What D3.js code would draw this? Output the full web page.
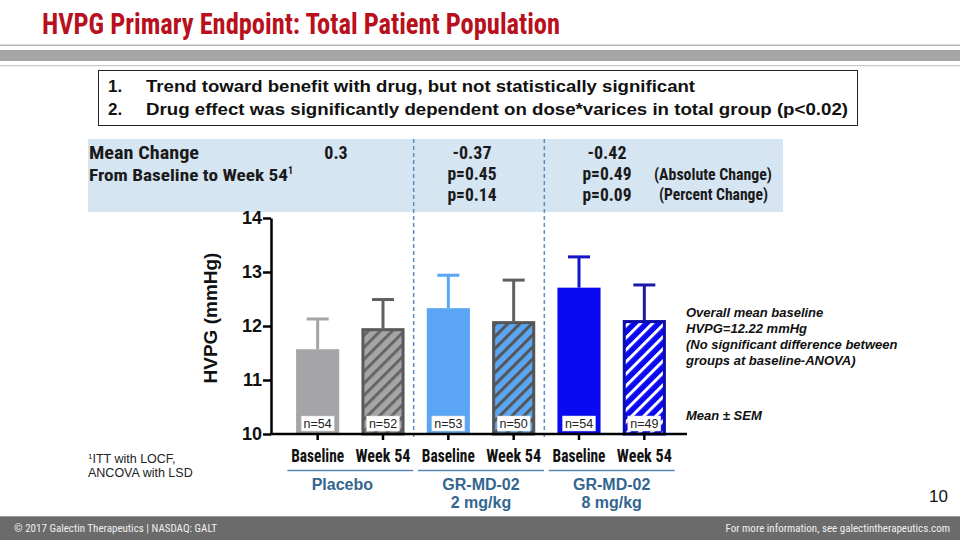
<!DOCTYPE html>
<html><head><meta charset="utf-8">
<script src="https://cdn.jsdelivr.net/npm/d3@7"></script>
<style>
html,body{margin:0;padding:0;background:#fff;}
svg{display:block;}
</style></head>
<body>
<svg id="chart" width="960" height="540"></svg>
<script>
// ---------------- DATA ----------------
const categories = ["Baseline","Week 54","Baseline","Week 54","Baseline","Week 54"];
const groupOf = [0,0,1,1,2,2];
const groupNames = [["Placebo"],["GR-MD-02","2 mg/kg"],["GR-MD-02","8 mg/kg"]];
const means = [11.57, 11.96, 12.33, 12.09, 12.71, 12.11];
const sems  = [0.56, 0.53, 0.61, 0.76, 0.57, 0.65];
const nCounts = [54, 52, 53, 50, 54, 49];
const yTicks = [10, 11, 12, 13, 14];
const meanChange = ["0.3", "-0.37", "-0.42"];
const pAbsolute = ["", "p=0.45", "p=0.49"];
const pPercent  = ["", "p=0.14", "p=0.09"];
const keyPoints = [
  "Trend toward benefit with drug, but not statistically significant",
  "Drug effect was significantly dependent on dose*varices in total group (p<0.02)"
];
const noteLines = ["Overall mean baseline","HVPG=12.22 mmHg","(No significant difference between","groups at baseline-ANOVA)"];

// ---------------- STYLE ----------------
const NARROW = "'Liberation Sans Narrow','Arial Narrow','Roboto Condensed','Liberation Sans',Arial,sans-serif";
const ARIAL = "'Liberation Sans',Arial,Helvetica,sans-serif";
const barStyle = [
  {fill:"#a5a5a8", err:"#a5a5a8", hatch:null},
  {fill:"url(#h0)", err:"#606060", hatch:{bg:"#a5a5a8", fg:"#666666"}, stroke:"#5a5a5a"},
  {fill:"#5aa6f4", err:"#5aa6f4", hatch:null},
  {fill:"url(#h1)", err:"#606060", hatch:{bg:"#5aa6f4", fg:"#555555"}, stroke:"#555555"},
  {fill:"#0a0af2", err:"#1414c8", hatch:null},
  {fill:"url(#h2)", err:"#1a1aa8", hatch:{bg:"#0a0af2", fg:"#ffffff"}, stroke:"#0c0cab"}
];

const svg = d3.select("#chart");
const defs = svg.append("defs");
let hi = 0;
barStyle.forEach(s => {
  if (!s.hatch) return;
  const p = defs.append("pattern").attr("id","h"+hi++)
    .attr("patternUnits","userSpaceOnUse").attr("width",8.5).attr("height",8.5)
    .attr("patternTransform","rotate(45)");
  p.append("rect").attr("width",8.5).attr("height",8.5).attr("fill",s.hatch.bg);
  p.append("rect").attr("x",0).attr("width",3).attr("height",8.5).attr("fill",s.hatch.fg);
});

// ---------------- HEADER ----------------
svg.append("text").attr("x",42).attr("y",34)
  .attr("font-family",NARROW).attr("font-weight","bold").attr("font-size",29)
  .attr("fill","#b8101c").attr("textLength",518).attr("lengthAdjust","spacingAndGlyphs")
  .text("HVPG Primary Endpoint: Total Patient Population");
svg.append("rect").attr("x",0).attr("y",44.5).attr("width",960).attr("height",1.5).attr("fill","#b5b5b5");
svg.append("rect").attr("x",0).attr("y",50).attr("width",960).attr("height",11).attr("fill","#a6a6a6");
svg.append("rect").attr("x",0).attr("y",65).attr("width",960).attr("height",1.2).attr("fill","#c8c8c8");

// Key points box
svg.append("rect").attr("x",98.5).attr("y",70.5).attr("width",759).attr("height",55)
  .attr("fill","#fff").attr("stroke","#222").attr("stroke-width",1);
keyPoints.forEach((t,i) => {
  const y = 92 + i*23;
  svg.append("text").attr("x",108).attr("y",y).attr("font-family",ARIAL).attr("font-weight","bold")
    .attr("font-size",17).attr("fill","#111").text((i+1)+".");
  svg.append("text").attr("x",146).attr("y",y).attr("font-family",ARIAL).attr("font-weight","bold")
    .attr("font-size",17).attr("fill","#111")
    .attr("textLength", i===0 ? 549 : 702).attr("lengthAdjust","spacingAndGlyphs").text(t);
});

// ---------------- SCALES ----------------
const x = d3.scaleBand().domain(d3.range(categories.length)).range([285, 677])
  .paddingInner(0.34).paddingOuter(0.17);
const y = d3.scaleLinear().domain([10, 14]).range([434, 218]);
const bw = x.bandwidth();
const groupCenter = g => {
  const idx = d3.range(categories.length).filter(i => groupOf[i] === g);
  return (x(idx[0]) + x(idx[idx.length-1]) + bw) / 2;
};

// Mean change panel
svg.append("rect").attr("x",88).attr("y",139).attr("width",695).attr("height",73).attr("fill","#d6e5f2");
const panelFont = (sel, size) => sel.attr("font-family",NARROW).attr("font-weight","bold")
  .attr("font-size",size||19).attr("fill","#1a1a1a");
const fit = (sel, w) => sel.attr("textLength",w).attr("lengthAdjust","spacingAndGlyphs");
fit(panelFont(svg.append("text").attr("x",89).attr("y",159),18),110).text("Mean Change");
const fb = panelFont(svg.append("text").attr("x",89).attr("y",181),17);
fb.append("tspan").attr("textLength",199).attr("lengthAdjust","spacingAndGlyphs").text("From Baseline to Week 54");
fb.append("tspan").attr("font-size",10).attr("dy",-7).text("1");
const valueX = [336, 472, 607];
[0,1,2].forEach(g => {
  const cx = valueX[g];
  panelFont(svg.append("text").attr("x",cx).attr("y",159).attr("text-anchor","middle"),18).text(meanChange[g]);
  if (pAbsolute[g]) panelFont(svg.append("text").attr("x",cx).attr("y",180).attr("text-anchor","middle"),17.5).text(pAbsolute[g]);
  if (pPercent[g]) panelFont(svg.append("text").attr("x",cx).attr("y",201).attr("text-anchor","middle"),17.5).text(pPercent[g]);
});
fit(panelFont(svg.append("text").attr("x",654).attr("y",180),16),118).text("(Absolute Change)");
fit(panelFont(svg.append("text").attr("x",659).attr("y",200),16),109).text("(Percent Change)");

// Dashed dividers between groups
[1,3].forEach(i => {
  const xd = (x(i) + bw + x(i+1)) / 2 - 2;
  svg.append("line").attr("x1",xd).attr("x2",xd).attr("y1",139).attr("y2",440)
    .attr("stroke","#5b8fc2").attr("stroke-width",1.5).attr("stroke-dasharray","4,3");
});

// ---------------- BARS ----------------
const bars = svg.append("g");
means.forEach((m,i) => {
  const s = barStyle[i];
  const cx = x(i) + bw/2;
  bars.append("line").attr("x1",cx).attr("x2",cx).attr("y1",y(m)).attr("y2",y(m+sems[i]))
    .attr("stroke",s.err).attr("stroke-width",3);
  bars.append("line").attr("x1",cx-11).attr("x2",cx+11).attr("y1",y(m+sems[i])).attr("y2",y(m+sems[i]))
    .attr("stroke",s.err).attr("stroke-width",3);
  if (s.hatch) {
    bars.append("rect").attr("x",x(i)+1.5).attr("y",y(m)+1.5).attr("width",bw-3).attr("height",y(10)-y(m)-1.5)
      .attr("fill",s.fill).attr("stroke",s.stroke).attr("stroke-width",3);
  } else {
    bars.append("rect").attr("x",x(i)).attr("y",y(m)).attr("width",bw).attr("height",y(10)-y(m))
      .attr("fill",s.fill);
  }
  bars.append("rect").attr("x",cx-16.5).attr("y",416).attr("width",33).attr("height",15)
    .attr("fill","#fff").attr("stroke","#d0d0d0").attr("stroke-width",0.5);
  bars.append("text").attr("x",cx).attr("y",428).attr("text-anchor","middle")
    .attr("font-family",ARIAL).attr("font-size",12.5).attr("fill","#222").text("n=" + nCounts[i]);
});

// ---------------- AXES ----------------
const yAxis = svg.append("g").attr("transform","translate(271,0)")
  .call(d3.axisLeft(y).tickValues(yTicks).tickFormat(d3.format("d")).tickSize(8).tickSizeOuter(0));
yAxis.select(".domain").attr("stroke","#000").attr("stroke-width",2.5);
yAxis.selectAll(".tick line").attr("stroke","#000").attr("stroke-width",2.5);
yAxis.selectAll(".tick text").attr("font-family",ARIAL).attr("font-weight","bold")
  .attr("font-size",18).attr("fill","#111").attr("x",-9);

svg.append("line").attr("x1",270).attr("x2",687).attr("y1",434).attr("y2",434)
  .attr("stroke","#000").attr("stroke-width",2.5);
const xAxis = svg.append("g").attr("transform","translate(0,434)")
  .call(d3.axisBottom(x).tickSize(6).tickSizeOuter(0).tickFormat(i => categories[i]));
xAxis.select(".domain").remove();
xAxis.selectAll(".tick line").attr("stroke","#000").attr("stroke-width",2.5);
xAxis.selectAll(".tick text").attr("font-family",NARROW).attr("font-weight","bold")
  .attr("font-size",18).attr("fill","#111").attr("y",15).attr("dy","0.71em")
  .attr("textLength",(d,i) => categories[i] === "Baseline" ? 53 : 55).attr("lengthAdjust","spacingAndGlyphs");

svg.append("text").attr("transform","translate(217,318) rotate(-90)").attr("text-anchor","middle")
  .attr("font-family",ARIAL).attr("font-weight","bold").attr("font-size",19).attr("fill","#111")
  .text("HVPG (mmHg)");

// Group labels
[0,1,2].forEach(g => {
  const gc = groupCenter(g);
  svg.append("line").attr("x1",gc-63).attr("x2",gc+63).attr("y1",470.5).attr("y2",470.5)
    .attr("stroke","#5a87b3").attr("stroke-width",1.5);
  groupNames[g].forEach((t,k) => {
    svg.append("text").attr("x",gc - (g===0 ? 8 : 0)).attr("y",490 + k*18).attr("text-anchor","middle")
      .attr("font-family",ARIAL).attr("font-weight","bold").attr("font-size",16)
      .attr("fill","#33668f").text(t);
  });
});

// Notes
noteLines.forEach((t,i) => {
  svg.append("text").attr("x",686).attr("y",317 + i*16).attr("font-family",ARIAL)
    .attr("font-weight","bold").attr("font-style","italic").attr("font-size",13).attr("fill","#111").text(t);
});
svg.append("text").attr("x",686).attr("y",420).attr("font-family",ARIAL)
  .attr("font-weight","bold").attr("font-style","italic").attr("font-size",13).attr("fill","#111").text("Mean ± SEM");

// Footnote
const fn = svg.append("text").attr("x",88).attr("y",463).attr("font-family",ARIAL).attr("font-size",12.5).attr("fill","#222");
fn.append("tspan").attr("font-size",8).attr("dy",-4).text("1");
fn.append("tspan").attr("dy",4).text("ITT with LOCF,");
svg.append("text").attr("x",88).attr("y",477).attr("font-family",ARIAL).attr("font-size",12.5).attr("fill","#222").text("ANCOVA with LSD");

// Page number
svg.append("text").attr("x",948).attr("y",502).attr("text-anchor","end").attr("font-family",ARIAL)
  .attr("font-size",17).attr("fill","#111").text("10");

// Footer
svg.append("rect").attr("x",0).attr("y",516).attr("width",960).attr("height",24).attr("fill","#6b6b6b");
svg.append("rect").attr("x",0).attr("y",516).attr("width",960).attr("height",1).attr("fill","#9a9a9a");
svg.append("text").attr("x",14).attr("y",532).attr("font-family",NARROW).attr("font-size",11)
  .attr("fill","#f0f0f0").text("©  2017 Galectin Therapeutics | NASDAQ: GALT");
svg.append("text").attr("x",950).attr("y",532).attr("text-anchor","end").attr("font-family",NARROW).attr("font-size",11)
  .attr("fill","#f0f0f0").text("For more information, see galectintherapeutics.com");
</script>
</body></html>
